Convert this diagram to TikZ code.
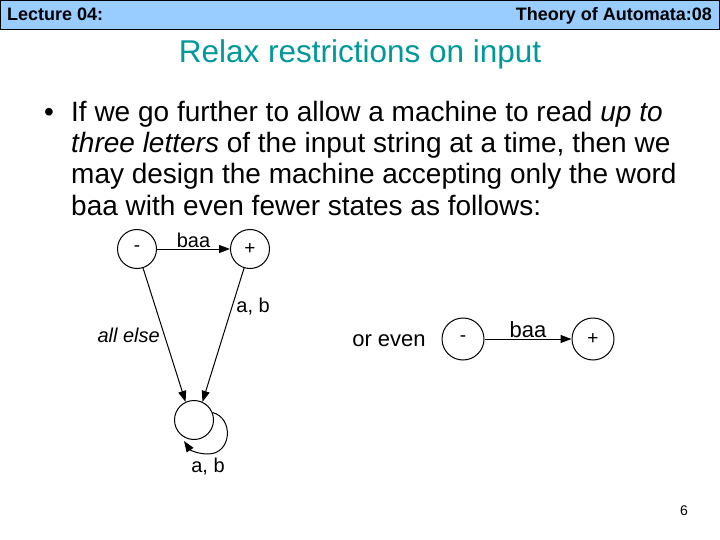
\documentclass[tikz,border=0pt]{standalone}
\usepackage{fontspec}
\setmainfont{Liberation Sans}
\usetikzlibrary{arrows.meta}
\definecolor{hdrblue}{RGB}{153,204,255}
\definecolor{titleteal}{RGB}{0,153,153}
\tikzset{
  st/.style={draw, circle, minimum size=39pt, inner sep=0pt, line width=1pt, font=\fontsize{19}{19}\selectfont},
  tr/.style={-{Triangle[length=11pt,width=8pt]}, line width=1pt},
  lbl/.style={font=\fontsize{20}{20}\selectfont, inner sep=1pt},
  lblr/.style={font=\fontsize{22}{22}\selectfont, inner sep=1pt},
  body/.style={anchor=base west, inner sep=0pt, font=\fontsize{28}{28}\selectfont},
  hdr/.style={inner sep=0pt, font=\bfseries\fontsize{18}{18}\selectfont},
}
\begin{document}
\begin{tikzpicture}[x=1pt,y=-1pt]
\useasboundingbox (0,0) rectangle (720,540);
\fill[white] (0,0) rectangle (720,540);
% header
\draw[fill=hdrblue, line width=1pt] (0.5,0.5) rectangle (719.5,29.5);
\node[hdr, anchor=base west] (lec) at (7,21) {Lecture 04:};
\node[hdr, anchor=base east] (toa) at (712,21) {Theory of Automata:08};
% title
\node[anchor=base, inner sep=0pt, text=titleteal, font=\fontsize{31.5}{31.5}\selectfont] (title) at (360,63) {Relax restrictions on input};
% body
\node[anchor=base west, inner sep=0pt, font=\fontsize{28}{28}\selectfont] (bul) at (44,122) {•};
\node[body] (l1) at (71,122) {If we go further to allow a machine to read \textit{up to}};
\node[body] (l2) at (71,153) {\textit{three letters} of the input string at a time, then we};
\node[body] (l3) at (71,184) {may design the machine accepting only the word};
\node[body] (l4) at (71,215) {baa with even fewer states as follows:};
% left machine
\node[st] (m) at (137,249) {-};
\node[st] (p) at (250,249) {+};
\node[st] (d) at (194,420) {};
\draw[tr] (m) -- node[lbl, above] {baa} (p);
\draw[tr] (m) -- node[lbl, pos=0.5, left, inner sep=4pt, font=\itshape\fontsize{20}{20}\selectfont] {all else} (d.115);
\draw[tr] (p) -- node[lbl, pos=0.29, right, inner sep=4pt] {a, b} (d.65);
\draw[tr] (d.22) .. controls (234,418) and (232,454) .. (208,454) .. controls (198,454) and (190,450) .. (184,441);
\node[lbl] (ab2) at (208,467) {a, b};
% right machine
\node[lblr] (oreven) at (389,341) {or even};
\node[st, minimum size=42pt] (m2) at (463,339) {-};
\node[st, minimum size=42pt] (p2) at (593,339) {+};
\draw[tr] (m2) -- node[lblr, above] {baa} (p2);
% page number
\node[inner sep=0pt, font=\fontsize{14}{14}\selectfont] (pg) at (684,511) {6};
\end{tikzpicture}
\end{document}
